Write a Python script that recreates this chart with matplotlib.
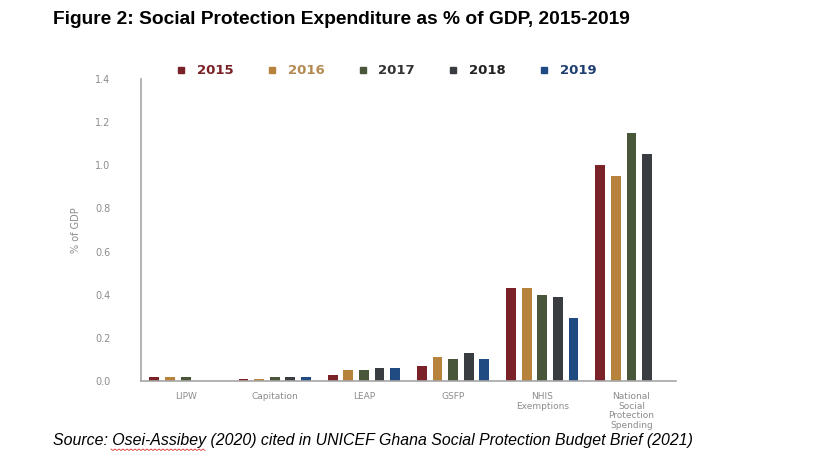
import numpy as np
import matplotlib
matplotlib.use("Agg")
import matplotlib.pyplot as plt
from matplotlib.lines import Line2D

# data (% of GDP)
categories = ["LIPW", "Capitation", "LEAP", "GSFP", "NHIS\nExemptions",
              "National\nSocial\nProtection\nSpending"]
years = ["2015", "2016", "2017", "2018", "2019"]
y2015 = [0.02, 0.01, 0.03, 0.07, 0.43, 1.00]
y2016 = [0.02, 0.01, 0.05, 0.11, 0.43, 0.95]
y2017 = [0.02, 0.02, 0.05, 0.10, 0.40, 1.15]
y2018 = [np.nan, 0.02, 0.06, 0.13, 0.39, 1.05]
y2019 = [np.nan, 0.02, 0.06, 0.10, 0.29, np.nan]

series = [y2015, y2016, y2017, y2018, y2019]
barColors = ["#7a2227", "#b7823c", "#4a5639", "#393c40", "#1f4a82"]
textColors = ["#7a2227", "#b48a52", "#333333", "#222222", "#1f3f72"]

grey = "#8c8c8c"

fig = plt.figure(figsize=(8.18, 4.63), dpi=100)
ax = fig.add_axes([0.1724, 0.1771, 0.6540, 0.6523])

x = np.arange(len(categories))
step = 0.175
width = 0.11
for i, vals in enumerate(series):
    ax.bar(x + (i - 2) * step, vals, width, color=barColors[i], label=years[i])

ax.set_xlim(-0.5, len(categories) - 0.5)
ax.set_ylim(0, 1.4)
ax.set_yticks(np.arange(0, 1.41, 0.2))
ax.set_yticklabels(["%.1f" % v for v in np.arange(0, 1.41, 0.2)])
ax.set_xticks(x)
ax.set_xticklabels(categories, linespacing=1.08)

for s in ["top", "right"]:
    ax.spines[s].set_visible(False)
for s in ["left", "bottom"]:
    ax.spines[s].set_color("#a6a6a6")
    ax.spines[s].set_linewidth(1.2)

ax.tick_params(axis="y", length=0, pad=22, labelsize=7, labelcolor=grey)
ax.tick_params(axis="x", length=0, pad=8, labelsize=6.5, labelcolor=grey)
for lbl in ax.get_xticklabels():
    lbl.set_verticalalignment("top")

ax.set_ylabel("% of GDP", fontsize=7, color=grey, labelpad=10)

# legend across the top
handles = [Line2D([], [], marker="s", linestyle="none", markersize=4,
                  color=c) for c in barColors]
leg = fig.legend(handles, years, loc="center", bbox_to_anchor=(0.473, 0.847),
                 ncol=5, frameon=False, handlelength=0.6, handletextpad=0.9,
                 columnspacing=2.6, prop={"weight": "bold", "size": 9.5})
for t, c in zip(leg.get_texts(), textColors):
    t.set_color(c)

fig.text(0.065, 0.957, "Figure 2: Social Protection Expenditure as % of GDP, 2015-2019",
         fontsize=13.8, fontweight="bold", family="Liberation Sans",
         va="center", ha="left")

fig.text(0.065, 0.049,
         "Source: Osei-Assibey (2020) cited in UNICEF Ghana Social Protection Budget Brief (2021)",
         fontsize=11.4, style="italic", family="Liberation Sans",
         va="center", ha="left")

# spell-check squiggle under the author name
zx = np.arange(111, 207, 2)
zy = 449 + np.where(np.arange(len(zx)) % 2 == 0, 0.0, 1.5)
fig.add_artist(Line2D(zx / 818, 1 - zy / 463, color="#e03030", linewidth=0.6,
                      transform=fig.transFigure))

fig.savefig("out.png", dpi=100)
